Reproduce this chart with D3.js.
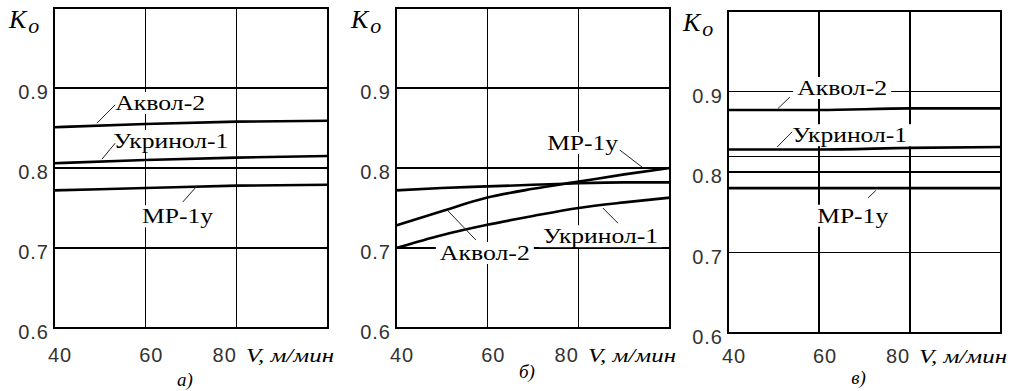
<!DOCTYPE html>
<html><head><meta charset="utf-8">
<script src="https://cdn.jsdelivr.net/npm/d3@7"></script>
<style>
body{margin:0;background:#fff}
.serif{font-family:"Liberation Serif","DejaVu Serif",serif}
.sans{font-family:"Liberation Sans","DejaVu Sans",sans-serif}
</style>
</head><body>
<svg id="chart" width="1015" height="391"></svg>
<script>
// ---------------- data ----------------
const speeds = [40, 60, 80, 100];              // V, м/мин
const xTicks = [40, 60, 80];
const yTicks = [0.6, 0.7, 0.8, 0.9];
const seriesNames = ["Аквол-2", "Укринол-1", "МР-1у"];
const panelLetters = ["а)", "б)", "в)"];

// panel а)
const aAkvol = [0.851, 0.855, 0.858, 0.859];
const aUkr   = [0.806, 0.810, 0.813, 0.815];
const aMr    = [0.772, 0.775, 0.778, 0.779];
// panel б)
const bSpeeds = [40, 50, 60, 70, 80, 90, 100];
const bAkvol = [0.728, 0.746, 0.763, 0.774, 0.783, 0.792, 0.800];
const bUkr   = [0.700, 0.716, 0.729, 0.740, 0.750, 0.757, 0.763];
const bMr    = [0.772, 0.775, 0.777, 0.779, 0.781, 0.782, 0.782];
// panel в)
const cAkvol = [0.877, 0.877, 0.879, 0.879];
const cUkr   = [0.828, 0.828, 0.830, 0.831];
const cMr    = [0.780, 0.780, 0.780, 0.780];
const cGuides = [0.819];

// ---------------- layout ----------------
const svg = d3.select("#chart");
svg.append("rect").attr("width",1015).attr("height",391).attr("fill","#fff");

const panels = [
  {left:54, right:328, top:8, bottom:328, letterY:386, tickY:362,
   series:[{x:speeds,y:aAkvol},{x:speeds,y:aUkr},{x:speeds,y:aMr}],
   guides:[],
   labels:[
     {name:0, v:53.4, k:0.8725, leader:[[49.4,0.856],[53.4,0.879]]},
     {name:1, v:53.0, k:0.825, leader:[[50.5,0.811],[53.4,0.831]]},
     {name:2, v:59.3, k:0.731, leader:[[71.3,0.7775],[68.2,0.7575]]}
   ]},
  {left:396, right:670, top:8, bottom:328, letterY:378, tickY:362,
   series:[{x:bSpeeds,y:bAkvol},{x:bSpeeds,y:bUkr},{x:bSpeeds,y:bMr}],
   guides:[],
   labels:[
     {name:0, v:49.6, k:0.685, leader:[[51.2,0.7475],[57.5,0.71]]},
     {name:1, v:72.2, k:0.706, leader:[[85.3,0.75],[88.6,0.731]]},
     {name:2, v:73.1, k:0.8225, leader:[[89.0,0.8225],[93.9,0.801]]}
   ]},
  {left:728, right:1001, top:11, bottom:333, letterY:384, tickY:363,
   series:[{x:speeds,y:cAkvol},{x:speeds,y:cUkr},{x:speeds,y:cMr}],
   guides:cGuides,
   labels:[
     {name:0, v:55.2, k:0.8957, leader:[[51.0,0.879],[53.6,0.893]]},
     {name:1, v:54.1, k:0.837, leader:[[50.8,0.831],[54.1,0.85]]},
     {name:2, v:59.6, k:0.737, leader:[[72.5,0.777],[70.8,0.768]]}
   ]}
];
const labelWidths = [90, 115, 71];
const xTickDx = [6, 6, -12];

panels.forEach((p, pi) => {
  const g = svg.append("g");
  const x = d3.scaleLinear().domain([40, 100]).range([p.left, p.right]);
  const y = d3.scaleLinear().domain([0.6, 1.0]).range([p.bottom, p.top]);

  // grid
  const grid = g.append("g").attr("stroke","#000").attr("stroke-width",1.2).attr("shape-rendering","crispEdges");
  grid.selectAll(".gx").data(xTicks.slice(1)).join("line")
    .attr("x1",d=>x(d)).attr("x2",d=>x(d)).attr("y1",p.top).attr("y2",p.bottom);
  grid.selectAll(".gy").data(yTicks.slice(1)).join("line")
    .attr("x1",p.left).attr("x2",p.right).attr("y1",d=>y(d)).attr("y2",d=>y(d));
  grid.selectAll(".gg").data(p.guides).join("line")
    .attr("x1",p.left).attr("x2",p.right).attr("y1",d=>y(d)).attr("y2",d=>y(d));
  g.append("rect").attr("x",p.left).attr("y",p.top).attr("width",p.right-p.left).attr("height",p.bottom-p.top)
    .attr("fill","none").attr("stroke","#000").attr("stroke-width",1.2).attr("shape-rendering","crispEdges");

  // series
  const line = d3.line().x(d=>x(d[0])).y(d=>y(d[1])).curve(d3.curveMonotoneX);
  p.series.forEach(s => {
    g.append("path").datum(s.x.map((v,i)=>[v, s.y[i]]))
      .attr("d", line).attr("fill","none").attr("stroke","#000").attr("stroke-width",2.6);
  });

  // labels with white backgrounds
  p.labels.forEach(l => {
    const t = g.append("text").attr("class","serif").attr("x", x(l.v)).attr("y", y(l.k))
      .attr("font-size",21)
      .attr("textLength", labelWidths[l.name]).attr("lengthAdjust","spacingAndGlyphs")
      .attr("fill","#000").text(seriesNames[l.name]);
    const bb = t.node().getBBox();
    g.insert("rect", function(){ return t.node(); })
      .attr("x", bb.x-4).attr("y", bb.y+1).attr("width", bb.width+8).attr("height", bb.height-2).attr("fill","#fff");
    g.append("line")
      .attr("x1", x(l.leader[0][0])).attr("y1", y(l.leader[0][1]))
      .attr("x2", x(l.leader[1][0])).attr("y2", y(l.leader[1][1]))
      .attr("stroke","#222").attr("stroke-width",1);
  });

  // y tick labels
  g.selectAll(".yt").data(yTicks).join("text").attr("class","sans")
    .attr("x", p.left-5).attr("y", d=>y(d)+11).attr("text-anchor","end")
    .attr("font-size",20).attr("letter-spacing",1)
    .attr("fill","#333").text(d=>d.toFixed(1));
  // x tick labels
  g.selectAll(".xt").data(xTicks).join("text").attr("class","sans")
    .attr("x", (d,i)=>x(d)+xTickDx[i]).attr("y", p.tickY).attr("text-anchor","middle")
    .attr("font-size",20).attr("letter-spacing",1)
    .attr("fill","#333").text(d=>d);
  // axis title V
  g.append("text").attr("class","serif").attr("x", p.right+6).attr("y", p.tickY).attr("text-anchor","end")
    .attr("font-style","italic").attr("font-size",19)
    .attr("textLength",88).attr("lengthAdjust","spacingAndGlyphs")
    .attr("fill","#000").text("V, м/мин");
  // K_o
  const k = g.append("text").attr("class","serif").attr("x", p.left-45).attr("y", p.top+20)
    .attr("font-style","italic").attr("font-size",26)
    .attr("fill","#000");
  k.append("tspan").text("K");
  k.append("tspan").attr("dx",2).attr("dy",5).attr("font-size",22).text("o");
  // panel letter
  g.append("text").attr("class","serif").attr("x",(p.left+p.right)/2-6).attr("y",p.letterY).attr("text-anchor","middle")
    .attr("font-style","italic").attr("font-size",19)
    .attr("fill","#000").text(panelLetters[pi]);
});
</script>
</body></html>
